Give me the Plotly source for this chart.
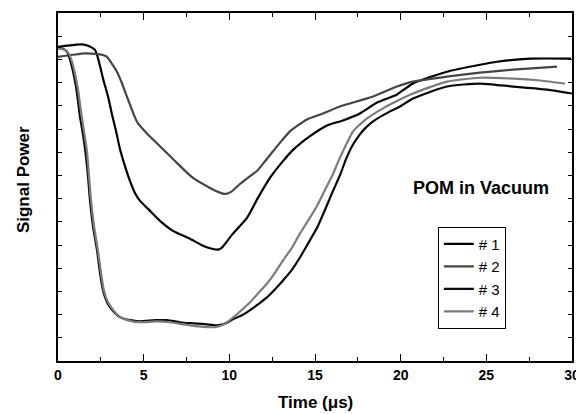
import plotly.graph_objects as go

# ---- data (time in µs, signal power in arbitrary units) ----
names = ["# 1", "# 2", "# 3", "# 4"]
colors = ["#000000", "#454545", "#0a0a0a", "#7c7c7c"]

t1 = [0, 0.53, 1.0, 1.40, 1.75, 2.16, 2.39, 2.63, 2.92, 3.15, 3.39, 3.62, 3.91, 4.20, 4.49, 4.79,
      5.37, 5.95, 6.71, 7.70, 8.46, 8.99, 9.34, 9.57, 10.21, 11.03, 11.67, 12.37, 13.07, 13.72,
      14.71, 15.70, 16.63, 17.62, 18.62, 19.79, 20.72, 22.70, 24.63, 25.62, 27.55, 29.94]
s1 = [13.54, 13.59, 13.63, 13.65, 13.59, 13.41, 12.90, 12.17, 11.40, 10.63, 9.90, 9.13, 8.40, 7.76,
      7.24, 6.90, 6.47, 6.04, 5.61, 5.27, 4.97, 4.84, 4.80, 4.89, 5.49, 6.17, 7.03, 7.89, 8.56, 9.10,
      9.69, 10.15, 10.37, 10.67, 11.14, 11.49, 11.96, 12.47, 12.77, 12.90, 13.03, 13.03]

t2 = [0, 0.88, 1.58, 2.16, 2.57, 2.86, 3.15, 3.44, 3.74, 3.97, 4.20, 4.44, 4.67, 5.19, 5.95, 6.95,
      7.88, 8.87, 9.34, 9.75, 10.10, 10.62, 11.21, 11.61, 12.08, 12.55, 13.07, 13.54, 14.53, 15.47,
      16.46, 18.39, 19.79, 20.72, 22.70, 24.63, 26.56, 29.13]
s2 = [13.11, 13.20, 13.26, 13.24, 13.20, 13.11, 12.81, 12.47, 11.96, 11.49, 11.06, 10.59, 10.24,
      9.81, 9.26, 8.53, 7.89, 7.46, 7.29, 7.20, 7.29, 7.63, 7.97, 8.19, 8.61, 9.04, 9.51, 9.90,
      10.41, 10.67, 10.97, 11.40, 11.83, 12.04, 12.26, 12.43, 12.56, 12.69]

t3 = [0, 0.29, 0.53, 0.70, 0.88, 1.05, 1.17, 1.28, 1.40, 1.58, 1.75, 1.87, 2.04, 2.28, 2.45, 2.63,
      2.86, 3.04, 3.33, 3.62, 4.20, 4.79, 5.66, 6.36, 7.12, 7.70, 8.58, 9.28, 9.81, 10.21, 10.74,
      11.21, 11.67, 12.20, 12.67, 13.13, 13.66, 14.12, 14.59, 15.12, 15.58, 16.05, 16.46, 16.81,
      17.16, 17.62, 17.98, 18.39, 19.38, 19.96, 20.72, 22.70, 24.63, 26.56, 28.54, 30.0]
s3 = [13.50, 13.46, 13.33, 12.99, 12.47, 11.83, 11.19, 10.54, 10.03, 9.13, 7.97, 6.90, 5.83, 4.76,
      3.81, 3.04, 2.53, 2.31, 2.06, 1.89, 1.76, 1.71, 1.76, 1.76, 1.67, 1.63, 1.59, 1.54, 1.63, 1.80,
      1.97, 2.19, 2.44, 2.74, 3.09, 3.47, 3.94, 4.46, 5.06, 5.74, 6.51, 7.33, 8.01, 8.70, 9.26, 9.77,
      10.07, 10.33, 10.76, 10.97, 11.31, 11.83, 11.96, 11.83, 11.70, 11.53]

t4 = [0, 0.41, 0.64, 0.82, 0.99, 1.17, 1.28, 1.40, 1.52, 1.69, 1.81, 1.93, 2.10, 2.33, 2.51, 2.68,
      2.92, 3.15, 3.44, 3.74, 4.32, 4.90, 5.78, 6.54, 7.24, 7.99, 8.70, 9.16, 9.57, 9.86, 10.51,
      11.21, 11.67, 12.20, 12.67, 13.13, 13.66, 14.12, 14.59, 15.12, 15.58, 16.05, 16.34, 16.63,
      17.22, 17.63, 18.04, 18.97, 19.96, 20.72, 22.70, 24.63, 26.56, 28.13, 29.59]
s4 = [13.46, 13.41, 13.24, 12.90, 12.39, 11.70, 11.10, 10.46, 9.90, 9.04, 7.97, 6.90, 5.83, 4.76,
      3.81, 3.04, 2.53, 2.27, 2.01, 1.84, 1.71, 1.67, 1.71, 1.67, 1.59, 1.50, 1.46, 1.46, 1.54, 1.67,
      2.06, 2.53, 2.91, 3.34, 3.81, 4.33, 4.89, 5.49, 6.04, 6.69, 7.37, 8.06, 8.57, 9.04, 9.90, 10.20,
      10.46, 10.89, 11.27, 11.53, 12.04, 12.21, 12.17, 12.09, 11.96]

x_ticks = [0, 5, 10, 15, 20, 25, 30]
x_title = "Time (μs)"
y_title = "Signal Power"
label = "POM in Vacuum"

series = [(t1, s1), (t2, s2), (t3, s3), (t4, s4)]

FONT = "Liberation Sans, Arial, sans-serif"

fig = go.Figure()
for (t, s), n, c in zip(series, names, colors):
    fig.add_trace(go.Scatter(x=t, y=s, mode="lines", name=n,
                             line=dict(color=c, width=2.2, shape="spline", smoothing=0.6)))

# page body has an 8px default margin, so the figure is 8px smaller
fig.update_layout(
    width=576, height=406,
    margin=dict(l=50, r=12, t=3, b=53),
    paper_bgcolor="white", plot_bgcolor="white",
    font=dict(family=FONT, color="black"),
    showlegend=True,
    legend=dict(x=0.739, y=0.386, xanchor="left", yanchor="top",
                bordercolor="black", borderwidth=1, bgcolor="white",
                font=dict(family=FONT, size=15, color="black"),
                tracegroupgap=0, itemwidth=30),
    xaxis=dict(range=[0, 30], tickmode="array", tickvals=x_ticks,
               ticks="inside", ticklen=7, tickwidth=1.3, tickcolor="black",
               showline=True, linecolor="black", linewidth=1.5, mirror="allticks",
               showgrid=False, zeroline=False,
               minor=dict(dtick=2.5, tick0=0, ticks="inside", ticklen=4, tickwidth=1.3,
                          tickcolor="black", showgrid=False),
               tickfont=dict(family=FONT, size=14, color="black", weight="bold")),
    yaxis=dict(range=[0, 15], dtick=1, tick0=0,
               ticks="inside", ticklen=4, tickwidth=1.2, tickcolor="black",
               showline=True, linecolor="black", linewidth=1.5, mirror="allticks",
               showgrid=False, zeroline=False, showticklabels=False),
    annotations=[
        dict(text=x_title, xref="paper", yref="paper", x=0.5, y=-0.12,
             xanchor="center", yanchor="middle", showarrow=False,
             font=dict(family=FONT, size=17, color="black", weight="bold")),
        dict(text=y_title, xref="paper", yref="paper", x=-0.068, y=0.52,
             xanchor="center", yanchor="middle", showarrow=False, textangle=-90,
             font=dict(family=FONT, size=17, color="black", weight="bold")),
        dict(text=label, xref="paper", yref="paper", x=0.823, y=0.497,
             xanchor="center", yanchor="middle", showarrow=False,
             font=dict(family=FONT, size=18, color="black", weight="bold")),
    ],
)

fig.write_html("out.html")
